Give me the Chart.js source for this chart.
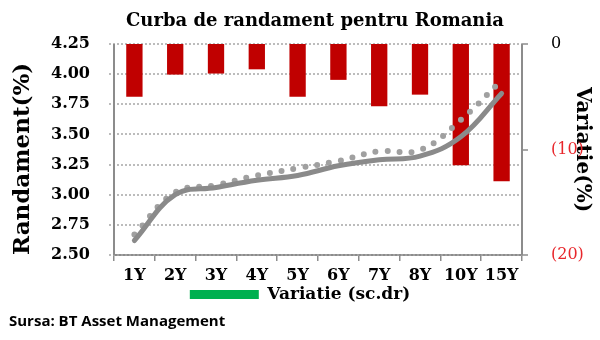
<!DOCTYPE html>
<html>
<head>
<meta charset="utf-8">
<script src="https://cdn.jsdelivr.net/npm/chart.js@4"></script>
<style>
  html, body { margin: 0; padding: 0; background: #fff; }
  #wrap { width: 600px; height: 340px; }
</style>
</head>
<body>
<div id="wrap"><canvas id="yieldChart" width="600" height="340"></canvas></div>
<script>
// ===== DATA =====
const maturities = ["1Y", "2Y", "3Y", "4Y", "5Y", "6Y", "7Y", "8Y", "10Y", "15Y"];
const yieldCurve = [2.62, 3.00, 3.06, 3.12, 3.16, 3.24, 3.29, 3.32, 3.48, 3.84];
const yieldTrend = [2.67, 3.02, 3.08, 3.16, 3.22, 3.28, 3.36, 3.37, 3.62, 3.95];
const variation = [-5.0, -2.9, -2.8, -2.4, -5.0, -3.4, -5.9, -4.8, -11.5, -13.0];

const titleText = "Curba de randament pentru Romania";
const sourceText = "Sursa: BT Asset Management";
const legendText = "Variatie (sc.dr)";

const SERIF = "'DejaVu Serif', serif";
const AXIS_GRAY = "#8c8c8c";

// ===== GRID + AXIS LINES =====
// dotted horizontal grid on the left scale, solid side axes, small ticks on the right one
const gridPlugin = {
  id: "dottedGrid",
  beforeDatasetsDraw(chart) {
    const { ctx, chartArea: a, scales } = chart;
    ctx.save();
    ctx.lineWidth = 1.5;
    ctx.strokeStyle = "#a6a6a6";
    ctx.setLineDash([2, 2]);
    scales.y.ticks.forEach(t => {
      const y = Math.round(scales.y.getPixelForValue(t.value));
      ctx.beginPath();
      ctx.moveTo(a.left - 5, y);
      ctx.lineTo(a.right, y);
      ctx.stroke();
    });
    ctx.setLineDash([]);
    ctx.strokeStyle = AXIS_GRAY;
    ctx.lineWidth = 2;
    ctx.beginPath();
    ctx.moveTo(a.left, a.top);
    ctx.lineTo(a.left, a.bottom);
    ctx.moveTo(a.right, a.top);
    ctx.lineTo(a.right, a.bottom);
    ctx.stroke();
    ctx.lineWidth = 1.5;
    scales.y2.ticks.forEach(t => {
      const y = Math.round(scales.y2.getPixelForValue(t.value));
      ctx.beginPath();
      ctx.moveTo(a.right, y);
      ctx.lineTo(a.right + 6, y);
      ctx.stroke();
    });
    ctx.restore();
  }
};

// ===== EXTRA TEXT (title + source) =====
const textPlugin = {
  id: "extraText",
  afterDraw(chart) {
    const { ctx, chartArea } = chart;
    ctx.save();
    ctx.fillStyle = "#000";
    ctx.textBaseline = "middle";
    ctx.textAlign = "center";
    ctx.font = "bold 18px " + SERIF;
    ctx.fillText(titleText, (chartArea.left + chartArea.right) / 2 - 3, 21);
    ctx.textAlign = "left";
    ctx.font = "bold 15px 'Open Sans', sans-serif";
    ctx.fillText(sourceText, 9, 322);
    ctx.restore();
  }
};

// ===== CHART =====
const ctx = document.getElementById("yieldChart").getContext("2d");

new Chart(ctx, {
  type: "bar",
  data: {
    labels: maturities,
    datasets: [
      {
        type: "line",
        label: "Randament",
        data: yieldCurve,
        yAxisID: "y",
        borderColor: "#8a8a8a",
        borderWidth: 5,
        borderCapStyle: "round",
        pointRadius: 0,
        tension: 0.4,
        order: 0
      },
      {
        type: "line",
        label: "Trend",
        data: yieldTrend,
        yAxisID: "y",
        borderColor: "#a0a0a0",
        borderWidth: 6,
        borderCapStyle: "round",
        borderDash: [0, 12],
        pointRadius: 0,
        tension: 0.4,
        order: 1
      },
      {
        label: legendText,
        data: variation,
        yAxisID: "y2",
        backgroundColor: "#c00000",
        categoryPercentage: 1,
        barPercentage: 0.4,
        order: 2
      }
    ]
  },
  options: {
    responsive: false,
    animation: false,
    layout: { padding: { top: 44, left: 0, right: 0, bottom: 27 } },
    plugins: {
      tooltip: { enabled: false },
      title: { display: false },
      legend: {
        position: "bottom",
        labels: {
          boxWidth: 69,
          boxHeight: 9,
          padding: 0,
          color: "#000",
          font: { family: SERIF, size: 17, weight: "bold" },
          generateLabels: () => [{
            text: legendText,
            fillStyle: "#00b050",
            strokeStyle: "#00b050",
            lineWidth: 0,
            hidden: false,
            datasetIndex: 2
          }]
        }
      }
    },
    scales: {
      x: {
        offset: true,
        afterFit: s => { s.height = 31; },
        grid: { offset: true, drawOnChartArea: false, color: AXIS_GRAY, lineWidth: 1.5, tickLength: 6 },
        border: { color: AXIS_GRAY, width: 2 },
        ticks: {
          padding: 5,
          color: "#000",
          font: { family: SERIF, size: 16, weight: "bold" }
        }
      },
      y: {
        position: "left",
        min: 2.5,
        max: 4.25,
        afterFit: s => { s.width = 114; },
        grid: { display: false },
        border: { display: false },
        ticks: {
          stepSize: 0.25,
          padding: 16,
          color: "#000",
          font: { family: SERIF, size: 16, weight: "bold" },
          callback: v => v.toFixed(2)
        },
        title: {
          display: true,
          text: "Randament(%)",
          align: "start",
          color: "#000",
          padding: { top: 9, bottom: 0 },
          font: { family: SERIF, size: 23, weight: "bold" }
        }
      },
      y2: {
        position: "right",
        min: -20,
        max: 0,
        afterFit: s => { s.width = 78; },
        grid: { display: false },
        border: { display: false },
        ticks: {
          stepSize: 10,
          padding: 21,
          color: c => (c.tick && c.tick.value < 0 ? "#e8262b" : "#000"),
          font: { family: SERIF, size: 16 },
          callback: v => (v === 0 ? "0" : "(" + Math.abs(v) + ")")
        },
        title: {
          display: true,
          text: "Variatie(%)",
          color: "#000",
          padding: { top: 6, bottom: 0 },
          font: { family: SERIF, size: 20, weight: "bold" }
        }
      }
    }
  },
  plugins: [gridPlugin, textPlugin]
});
</script>
</body>
</html>
